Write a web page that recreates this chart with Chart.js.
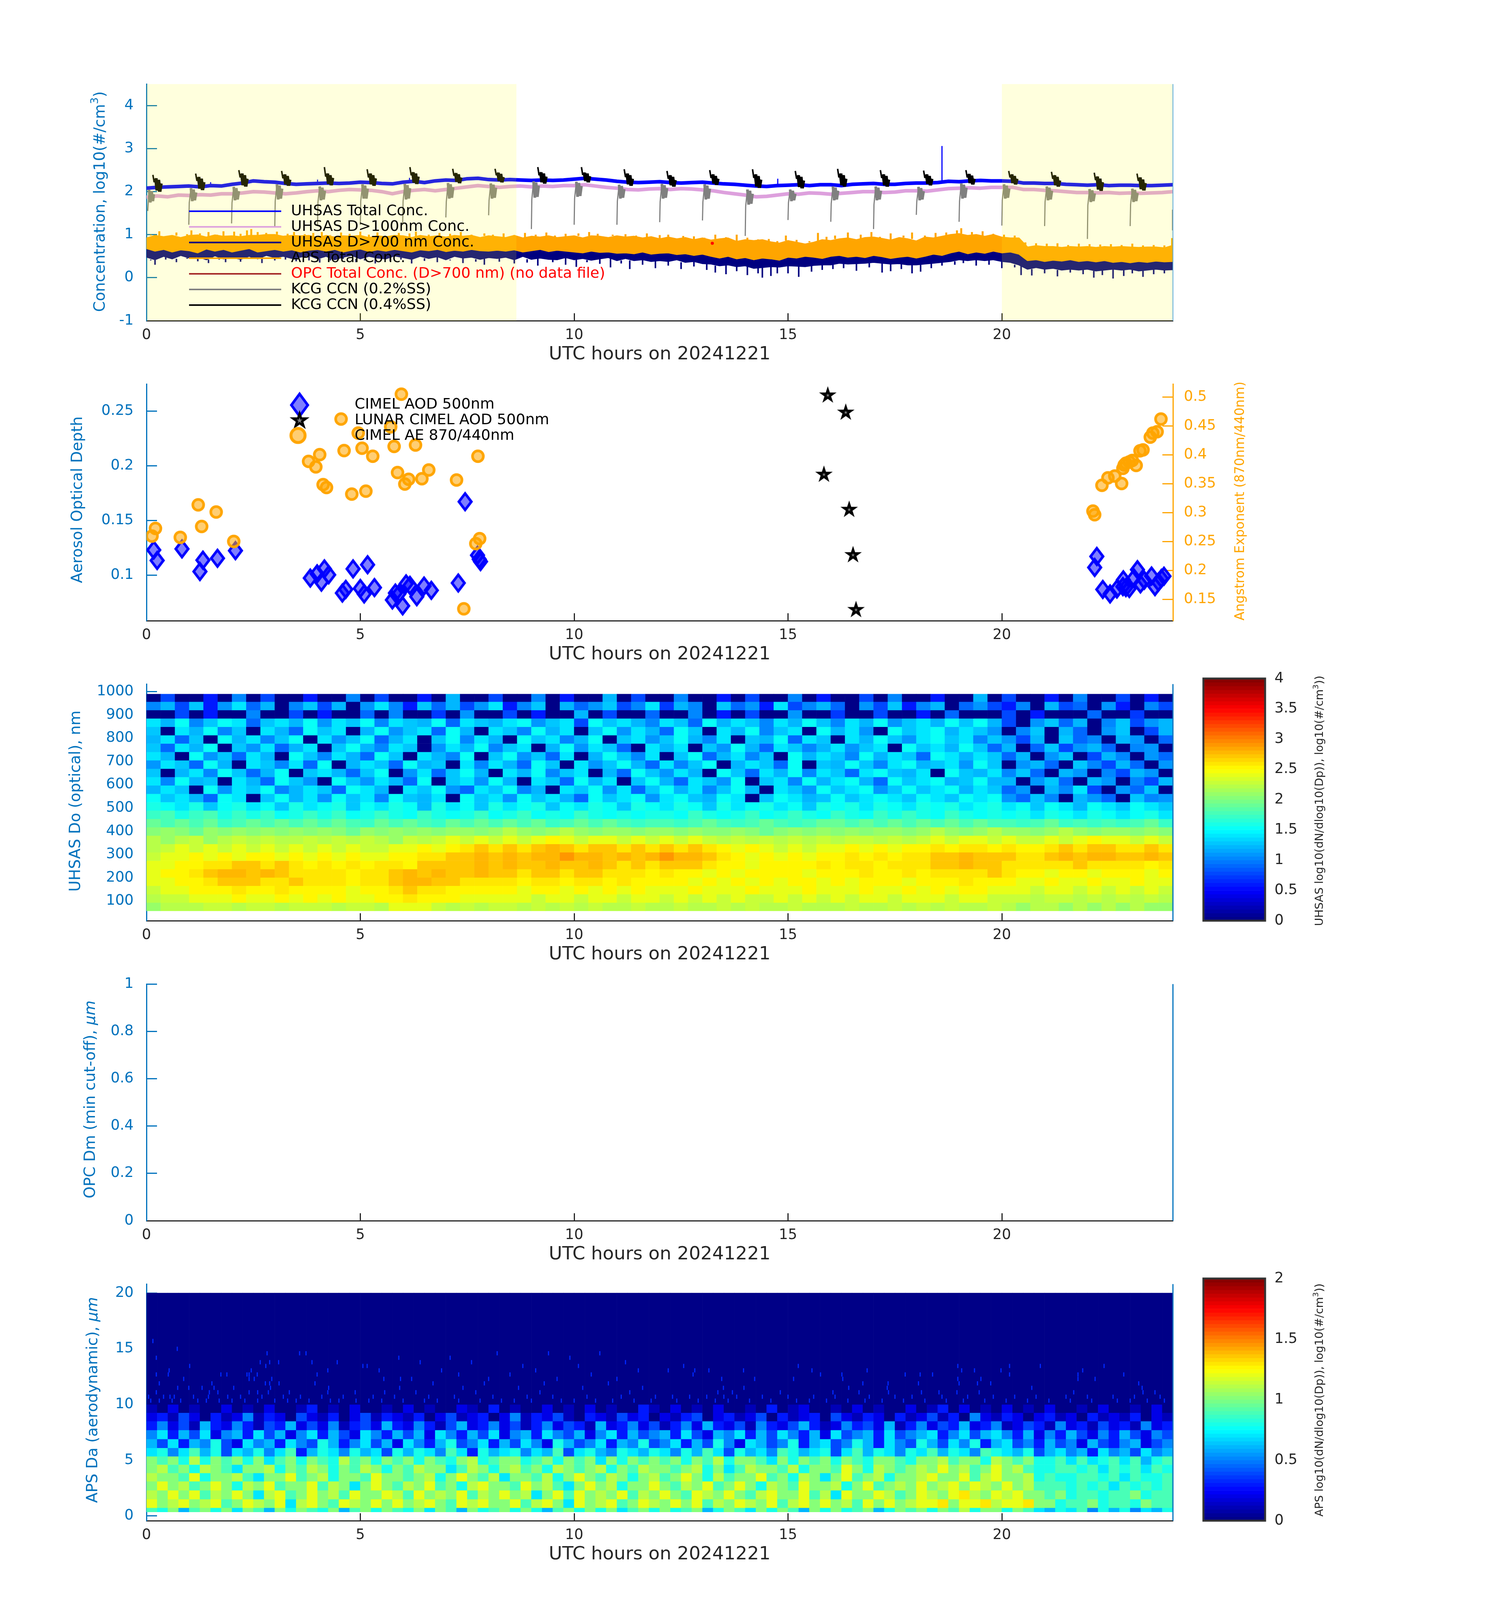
<!DOCTYPE html>
<html>
<head>
<meta charset="utf-8">
<title>Aerosol daily summary 20241221</title>
<script src="https://cdn.jsdelivr.net/npm/chart.js@4/dist/chart.umd.js"></script>
<style>
  html, body { margin: 0; background: #fff; overflow: hidden; }
  canvas { position: absolute; }
</style>
</head>
<body>
<script>
// ---- panel 1: concentrations, log10(#/cm3)
// sampled every 0.25 h
const uhsasTotal = [2.08,2.10,2.11,2.12,2.13,2.11,2.14,2.13,2.17,2.20,2.25,2.23,2.22,2.19,2.17,2.18,2.19,2.20,2.19,2.20,2.22,2.21,2.19,2.18,2.22,2.24,2.21,2.25,2.27,2.26,2.30,2.31,2.28,2.27,2.28,2.27,2.26,2.27,2.26,2.27,2.29,2.31,2.29,2.27,2.24,2.22,2.21,2.22,2.23,2.21,2.20,2.21,2.22,2.20,2.18,2.17,2.15,2.13,2.12,2.14,2.15,2.16,2.14,2.16,2.16,2.14,2.17,2.18,2.19,2.17,2.17,2.19,2.20,2.20,2.21,2.24,2.23,2.25,2.26,2.25,2.25,2.24,2.20,2.20,2.19,2.19,2.17,2.16,2.15,2.16,2.14,2.15,2.15,2.14,2.14,2.15,2.16];
const uhsas100 = [1.87,1.90,1.88,1.92,1.91,1.93,1.92,1.95,1.95,1.97,2.00,1.99,1.97,1.95,1.97,2.00,2.02,2.00,2.03,2.05,2.04,2.03,2.00,1.95,2.00,2.03,2.05,2.02,2.05,2.08,2.11,2.14,2.12,2.10,2.12,2.13,2.11,2.13,2.12,2.14,2.14,2.16,2.13,2.10,2.08,2.05,2.04,2.06,2.07,2.05,2.07,2.06,2.04,2.02,1.98,1.95,1.92,1.88,1.89,1.92,1.95,1.94,1.97,1.96,1.94,1.96,1.98,2.00,2.00,1.98,1.99,2.02,2.02,2.01,2.04,2.07,2.08,2.09,2.08,2.10,2.10,2.10,2.05,2.05,2.03,2.02,2.00,1.98,1.98,1.97,1.98,1.96,1.97,1.96,1.97,1.98,2.00];
const spikeHours = [18.6,18.6,18.6, 14.76,14.76,14.76, 1.5,1.5,1.5, 4.0,4.0,4.0, 6.15,6.15,6.15];
const spikeValues = [2.2,3.06,null, 2.15,2.30,null, 2.12,2.22,null, 2.18,2.28,null, 2.22,2.32,null];

// sampled every 0.2 h: envelope of the noisy traces
const uhsas700Hi = [.72,.7,.74,.71,.73,.7,.75,.72,.7,.74,.71,.73,.76,.72,.74,.7,.73,.71,.74,.72,.7,
  .73,.71,.74,.7,.72,.75,.71,.73,.7,.74,.72,.7,.73,.71,.74,.72,.7,.73,.71,.72,
  .72,.74,.7,.73,.71,.74,.7,.72,.69,.71,.68,.7,.67,.69,.66,.68,.65,.67,.64,.66,
  .65,.63,.66,.62,.64,.6,.58,.6,.56,.58,.55,.57,.54,.56,.58,.56,.6,.58,.56,.6,
  .62,.6,.62,.59,.63,.6,.58,.6,.62,.58,.62,.66,.64,.7,.74,.68,.72,.68,.72,.7,
  .72,.66,.46,.44,.42,.44,.41,.43,.4,.42,.4,.41,.38,.4,.38,.4,.38,.41,.39,.4];
const uhsas700Lo = [.48,.42,.5,.44,.52,.46,.49,.42,.51,.44,.47,.43,.5,.44,.52,.47,.5,.45,.48,.52,.44,
  .5,.42,.48,.52,.44,.5,.46,.44,.51,.47,.43,.5,.45,.49,.42,.5,.46,.48,.43,.47,
  .45,.48,.42,.5,.43,.46,.43,.42,.47,.42,.45,.41,.44,.47,.4,.45,.4,.42,.38,.4,
  .38,.42,.36,.38,.33,.32,.28,.3,.26,.28,.22,.24,.26,.25,.28,.27,.26,.29,.3,.3,
  .34,.32,.33,.34,.36,.34,.32,.33,.3,.3,.32,.34,.36,.38,.42,.4,.42,.4,.42,.38,
  .36,.3,.2,.24,.2,.22,.18,.2,.18,.2,.16,.18,.2,.18,.2,.16,.18,.2,.18,.19];
const apsHi = [.92,.98,.95,.98,.93,.98,.99,.94,.99,.96,.97,.95,.98,.98,1.0,1.0,.96,.98,.97,.98,.93,
  .98,.94,.97,.96,.98,.93,.97,.95,.98,.97,.93,.98,.95,.97,.94,.98,.96,.98,.93,.97,
  .95,.93,.98,.92,.96,.94,.97,.93,.95,.97,.92,.97,.96,.93,.97,.94,.96,.92,.95,.9,
  .94,.9,.93,.88,.92,.87,.9,.92,.84,.88,.86,.88,.83,.8,.86,.82,.78,.82,.88,.86,
  .9,.92,.88,.93,.94,.91,.87,.93,.9,.85,.94,.92,.96,1.0,1.02,.98,1.0,.96,1.0,.94,
  .92,.92,.71,.74,.72,.72,.7,.72,.71,.72,.7,.72,.71,.72,.71,.7,.71,.71,.69,.75];
const apsLo = [.68,.62,.66,.6,.65,.63,.58,.67,.62,.66,.6,.64,.68,.6,.63,.66,.62,.65,.6,.64,.66,
  .62,.66,.6,.64,.67,.61,.65,.62,.66,.63,.6,.65,.63,.66,.61,.64,.62,.66,.63,.62,
  .64,.62,.65,.6,.63,.66,.61,.64,.62,.6,.58,.62,.59,.6,.57,.58,.56,.6,.55,.57,
  .58,.54,.56,.52,.55,.5,.46,.5,.44,.47,.42,.46,.44,.41,.48,.46,.5,.48,.45,.5,
  .52,.48,.5,.47,.52,.49,.45,.48,.5,.46,.5,.55,.52,.58,.62,.56,.6,.57,.62,.58,
  .6,.55,.4,.42,.38,.41,.39,.42,.38,.4,.37,.4,.36,.38,.35,.38,.36,.39,.37,.38];
// single noisy excursions past the envelopes
const apsPeakHours = [.1,.3,.55,.7,.95,1.05,1.25,1.45,1.65,1.8,2.05,2.2,2.35,2.45,2.6,2.8,3.05,3.3,3.45,3.7,3.9,4.1,4.3,4.55,4.75,5.0,5.2,5.4,5.7,5.9,6.15,6.3,6.6,6.85,7.1,7.35,7.6,7.9,8.1,8.35,8.6,8.85,9.1,9.35,9.55,9.8,10.1,10.35,10.55,10.9,11.2,11.45,11.7,12.0,12.2,12.55,12.8,13.05,13.3,13.55,13.8,14.05,14.3,14.55,14.75,14.95,15.2,15.5,15.7,15.9,16.1,16.4,16.7,16.95,17.15,17.4,17.7,17.9,18.2,18.45,18.7,18.95,19.05,19.3,19.55,19.8,20.05,20.3,20.55,20.8,21.05,21.3,21.55,21.8,22.05,22.3,22.55,22.8,23.05,23.3,23.55,23.8,23.98];
const apsPeakValues = [1.0,1.08,.98,1.05,1.01,1.1,1.03,1.06,1.0,1.08,1.07,1.02,1.1,1.13,1.06,1.04,1.07,1.02,1.06,1.01,1.04,1.06,.99,1.05,1.02,1.07,1.0,1.05,.98,1.04,1.03,1.07,1.0,1.04,1.02,1.06,1.0,1.03,1.0,1.03,.99,1.04,1.0,1.05,.98,1.02,1.03,1.06,1.02,1.0,1.01,.98,1.03,.99,1.0,.97,.96,.93,1.0,.94,1.0,.93,.89,.9,.85,.98,.88,.85,1.04,.95,.98,1.05,1.0,1.06,.95,1.03,.98,1.05,.98,1.04,1.05,1.1,1.15,1.06,1.08,1.02,1.0,.98,.82,.8,.79,.8,.76,.79,.78,.77,.78,.76,.79,.75,.76,.75,.92];
const dipHours = [.1,.2,.45,.7,.95,1.2,1.45,1.7,1.85,2.2,2.45,2.7,3.0,3.25,3.5,3.8,4.05,4.3,4.6,4.9,5.1,5.35,5.7,5.95,6.2,6.5,6.8,7.1,7.4,7.7,7.9,8.25,8.6,8.9,9.15,9.5,9.8,10.05,10.3,10.6,10.85,11.1,11.3,11.6,11.9,12.2,12.5,12.8,13.1,13.3,13.55,13.8,14.05,14.3,14.4,14.6,14.75,15.0,15.25,15.55,15.8,16.05,16.3,16.6,16.9,17.2,17.4,17.65,17.9,18.1,18.35,18.6,18.9,19.1,19.4,19.7,20.0,20.3,20.45,20.7,21.0,21.3,21.6,21.9,22.15,22.35,22.6,22.85,23.05,23.3,23.55,23.8];
const dipValues = [.4,.3,.42,.36,.44,.38,.34,.42,.36,.37,.44,.34,.4,.42,.38,.4,.35,.4,.44,.36,.4,.33,.38,.42,.33,.39,.36,.4,.34,.37,.3,.37,.33,.35,.28,.36,.3,.25,.36,.32,.24,.33,.2,.3,.22,.28,.2,.26,.18,.12,.08,.15,.06,.1,.0,.04,.1,.1,.02,.14,.18,.2,.22,.16,.24,.12,.15,.2,.1,.14,.22,.28,.3,.34,.28,.3,.22,.24,.06,.05,.1,.03,.12,.08,.0,.06,-.02,.04,.1,.02,.08,.1];

// CCN bursts, one line per cycle, null breaks the trace between cycles
const ccn02Hours = [
  .03,.04,.06,.09,.12,.15,.17,.17,
  .99,1.0,1.04,1.07,1.1,1.13,1.16,1.16,
  1.99,2.0,2.04,2.07,2.1,2.13,2.16,2.16,
  3.0,3.01,3.05,3.08,3.11,3.14,3.17,3.17,
  4.0,4.01,4.05,4.08,4.11,4.14,4.17,4.17,
  5.0,5.01,5.05,5.08,5.11,5.14,5.17,5.17,
  5.99,6.0,6.04,6.07,6.1,6.13,6.16,6.16,
  7.0,7.01,7.05,7.08,7.11,7.14,7.17,7.17,
  8.0,8.01,8.05,8.08,8.11,8.14,8.17,8.17,
  9.0,9.01,9.05,9.08,9.11,9.14,9.17,9.17,
  10.0,10.01,10.05,10.08,10.11,10.14,10.17,10.17,
  11.0,11.01,11.05,11.08,11.11,11.14,11.17,11.17,
  12.0,12.01,12.05,12.08,12.11,12.14,12.17,12.17,
  13.0,13.01,13.05,13.08,13.11,13.14,13.17,13.17,
  14.0,14.01,14.05,14.08,14.11,14.14,14.17,14.17,
  15.0,15.01,15.05,15.08,15.11,15.14,15.17,15.17,
  16.0,16.01,16.05,16.08,16.11,16.14,16.17,16.17,
  17.0,17.01,17.05,17.08,17.11,17.14,17.17,17.17,
  18.0,18.01,18.05,18.08,18.11,18.14,18.17,18.17,
  19.0,19.01,19.05,19.08,19.11,19.14,19.17,19.17,
  20.0,20.01,20.05,20.08,20.11,20.14,20.17,20.17,
  21.0,21.01,21.05,21.08,21.11,21.14,21.17,21.17,
  22.0,22.01,22.05,22.08,22.11,22.14,22.17,22.17,
  23.0,23.01,23.05,23.08,23.11,23.14,23.17,23.17,
  23.99,23.99];
const ccn02Values = [
  1.55,1.72,2.04,1.75,2.01,1.78,1.94,null,
  1.23,1.74,2.08,1.78,2.05,1.8,1.98,null,
  1.26,1.74,2.11,1.8,2.08,1.82,2.01,null,
  1.17,1.78,2.17,1.82,2.14,1.84,2.07,null,
  1.23,1.76,2.12,1.8,2.09,1.82,2.02,null,
  1.23,1.78,2.17,1.84,2.14,1.84,2.07,null,
  1.23,1.78,2.18,1.82,2.15,1.84,2.08,null,
  1.4,1.76,2.2,1.84,2.17,1.86,2.1,null,
  1.45,1.8,2.19,1.84,2.16,1.86,2.09,null,
  1.13,1.82,2.24,1.86,2.21,1.88,2.14,null,
  1.23,1.84,2.23,1.88,2.2,1.9,2.13,null,
  1.23,1.78,2.16,1.84,2.13,1.86,2.06,null,
  1.29,1.76,2.18,1.84,2.15,1.86,2.08,null,
  1.33,1.76,2.17,1.82,2.14,1.84,2.07,null,
  .97,1.66,2.05,1.7,2.02,1.72,1.95,null,
  1.34,1.74,2.05,1.78,2.02,1.8,1.95,null,
  1.3,1.72,2.12,1.8,2.09,1.82,2.02,null,
  1.13,1.7,2.12,1.8,2.09,1.82,2.02,null,
  1.46,1.76,2.11,1.8,2.08,1.82,2.01,null,
  1.3,1.78,2.19,1.84,2.16,1.86,2.09,null,
  1.21,1.8,2.17,1.84,2.14,1.86,2.07,null,
  1.2,1.76,2.12,1.8,2.09,1.82,2.02,null,
  .9,1.68,2.06,1.76,2.03,1.78,1.96,null,
  1.2,1.7,2.07,1.76,2.04,1.78,1.97,null,
  1.1,1.58];
const ccn04Hours = [
  .15,.18,.22,.25,.28,.31,.34,.34,
  1.15,1.18,1.22,1.25,1.28,1.31,1.34,1.34,
  2.16,2.19,2.23,2.26,2.29,2.32,2.35,2.35,
  3.16,3.19,3.23,3.26,3.29,3.32,3.35,3.35,
  4.16,4.19,4.23,4.26,4.29,4.32,4.35,4.35,
  5.16,5.19,5.23,5.26,5.29,5.32,5.35,5.35,
  6.16,6.19,6.23,6.26,6.29,6.32,6.35,6.35,
  7.16,7.19,7.23,7.26,7.29,7.32,7.35,7.35,
  8.15,8.18,8.22,8.25,8.28,8.31,8.34,8.34,
  9.15,9.18,9.22,9.25,9.28,9.31,9.34,9.34,
  10.17,10.2,10.24,10.27,10.3,10.33,10.36,10.36,
  11.17,11.2,11.24,11.27,11.3,11.33,11.36,11.36,
  12.17,12.2,12.24,12.27,12.3,12.33,12.36,12.36,
  13.17,13.2,13.24,13.27,13.3,13.33,13.36,13.36,
  14.17,14.2,14.24,14.27,14.3,14.33,14.36,14.36,
  15.17,15.2,15.24,15.27,15.3,15.33,15.36,15.36,
  16.16,16.19,16.23,16.26,16.29,16.32,16.35,16.35,
  17.16,17.19,17.23,17.26,17.29,17.32,17.35,17.35,
  18.17,18.2,18.24,18.27,18.3,18.33,18.36,18.36,
  19.16,19.19,19.23,19.26,19.29,19.32,19.35,19.35,
  20.16,20.19,20.23,20.26,20.29,20.32,20.35,20.35,
  21.16,21.19,21.23,21.26,21.29,21.32,21.35,21.35,
  22.16,22.19,22.23,22.26,22.29,22.32,22.35,22.35,
  23.16,23.19,23.23,23.26,23.29,23.32,23.35];
const ccn04Values = [
  2.39,2.22,2.31,2.03,2.27,2.0,2.19,null,
  2.42,2.25,2.34,2.07,2.3,2.04,2.22,null,
  2.5,2.33,2.42,2.15,2.38,2.12,2.3,null,
  2.48,2.31,2.4,2.17,2.36,2.14,2.28,null,
  2.57,2.35,2.42,2.18,2.38,2.15,2.32,null,
  2.52,2.33,2.42,2.17,2.38,2.14,2.31,null,
  2.57,2.38,2.45,2.21,2.42,2.18,2.35,null,
  2.53,2.37,2.43,2.23,2.4,2.2,2.33,null,
  2.53,2.38,2.44,2.25,2.41,2.22,2.34,null,
  2.57,2.38,2.45,2.22,2.42,2.19,2.35,null,
  2.57,2.39,2.44,2.25,2.42,2.22,2.36,null,
  2.52,2.34,2.42,2.17,2.38,2.14,2.3,null,
  2.48,2.3,2.38,2.15,2.34,2.12,2.27,null,
  2.5,2.32,2.4,2.19,2.36,2.16,2.3,null,
  2.52,2.32,2.4,2.12,2.36,2.09,2.28,null,
  2.48,2.3,2.38,2.11,2.34,2.08,2.26,null,
  2.53,2.33,2.42,2.15,2.38,2.12,2.3,null,
  2.5,2.32,2.4,2.15,2.36,2.12,2.28,null,
  2.49,2.32,2.4,2.18,2.36,2.15,2.3,null,
  2.5,2.33,2.41,2.2,2.37,2.17,2.3,null,
  2.48,2.33,2.4,2.2,2.36,2.17,2.3,null,
  2.46,2.3,2.38,2.15,2.34,2.12,2.26,null,
  2.44,2.27,2.35,2.05,2.3,2.02,2.22,null,
  2.42,2.25,2.33,2.06,2.28,2.03,2.2];
const opcHours = [13.23];
const opcValues = [0.8];
const nightSpans = [[0, 8.65], [20, 24]];
const legendNames = ['UHSAS Total Conc.', 'UHSAS D>100nm Conc.', 'UHSAS D>700 nm Conc.', 'APS Total Conc.', 'OPC Total Conc. (D>700 nm) (no data file)', 'KCG CCN (0.2%SS)', 'KCG CCN (0.4%SS)'];

// ---- panel 2: AOD and Angstrom exponent
const aodHours = [.17,.25,.83,1.32,1.25,1.66,2.08,3.83,3.99,4.16,4.26,4.09,4.58,4.66,4.83,5.0,5.09,5.17,5.33,5.75,5.82,5.9,5.99,6.07,6.16,6.32,6.49,6.66,7.29,7.45,7.74,7.78,7.81,22.22,22.17,22.36,22.53,22.69,22.84,22.9,22.98,22.83,23.09,23.17,23.24,23.33,23.5,23.58,23.66,23.73,23.79];
const aodValues = [.123,.1134,.124,.1137,.1033,.1154,.1224,.0973,.1012,.1057,.1003,.0936,.0836,.087,.1057,.0878,.0828,.1095,.0886,.0773,.0836,.0828,.0719,.092,.0906,.0803,.09,.0861,.0928,.1672,.1182,.1145,.1124,.1171,.107,.0869,.0828,.0873,.0957,.0886,.0878,.0895,.0973,.105,.092,.0953,.0992,.0895,.0936,.097,.099];
const lunarHours = [15.93,16.35,15.84,16.43,16.52,16.59];
const lunarValues = [.2645,.2488,.192,.1599,.1184,.0682];
const aeHours = [5.96,4.55,5.71,4.95,5.04,5.79,6.29,4.62,5.29,4.05,3.79,3.96,7.75,6.6,5.87,6.44,6.13,6.04,7.25,4.13,4.21,4.8,5.13,1.21,1.63,1.29,.21,.13,.79,2.04,7.79,7.7,7.42,23.72,23.63,23.53,23.47,23.3,23.23,23.05,22.98,22.9,22.86,23.14,22.83,22.64,22.48,22.8,22.34,22.13,22.17];
const aeValues = [.505,.462,.4485,.4377,.4115,.4146,.417,.4074,.3976,.4004,.3887,.3792,.3976,.3738,.3694,.3587,.3577,.3495,.3565,.3485,.3435,.3321,.3372,.3135,.3011,.2761,.2727,.2594,.2572,.2502,.255,.2464,.1336,.462,.44,.4377,.4307,.4086,.407,.3903,.3878,.3855,.3824,.3817,.3767,.3634,.3602,.3504,.3473,.3027,.2964];

// ---- panel 3: UHSAS size distribution, log10 x10, top row first, 20 min columns
const uhsasEdges = [990,957,921,885,849,813,777,741,705,669,633,597,561,525,489,453,417,381,345,309,273,237,201,165,129,93,57];
const uhsasCells = [
 [0,8,0,0,6,0,10,0,8,0,0,6, 0,0,10,0,8,0,0,6,0,12,0,0, 8,0,0,10,0,6,0,0,12,0,8,0, 0,10,0,0,6,0,8,0,0,10,0,6, 0,0,8,0,10,0,0,6,0,0,12,0, 8,0,0,6,0,10,0,0,8,0,6,0],
 [10,12,8,13,6,11,14,9,12,0,10,13, 8,12,0,11,14,10,6,13,9,12,8,11, 14,6,10,13,0,12,9,11,13,8,10,14, 7,12,10,0,13,9,11,6,14,8,10,12, 9,0,11,8,13,6,10,12,0,9,11,8, 6,10,0,12,8,9,0,11,6,0,10,8],
 [0,0,8,0,6,0,0,10,0,0,8,0, 6,0,0,9,0,10,0,0,7,0,11,0, 0,8,0,6,0,0,12,0,8,0,0,9, 0,0,10,0,6,0,8,0,0,11,0,0, 7,0,0,8,0,0,6,0,9,0,0,0, 8,0,6,0,0,0,9,0,0,7,0,0],
 [14,12,15,10,13,15,14,9,13,14,12,15, 11,14,13,15,10,14,13,12,15,9,14,13, 12,14,15,11,13,14,8,15,13,14,12,10, 14,13,9,15,12,14,13,10,14,12,15,13, 10,14,12,15,11,13,14,12,15,13,15,12, 8,0,11,13,9,12,0,10,13,8,11,12],
 [13,0,14,12,15,10,13,0,14,12,9,15, 13,14,0,12,15,11,13,14,9,15,12,0, 14,13,10,15,12,14,0,13,15,11,14,12, 9,15,13,0,14,12,15,10,13,14,0,15, 12,14,11,0,15,13,14,15,12,14,13,11, 0,10,13,0,12,9,0,11,13,0,8,12],
 [12,14,9,13,0,15,12,14,10,13,15,0, 14,11,13,15,9,12,14,0,13,15,10,14, 12,0,15,13,14,10,12,15,0,13,14,11, 13,15,12,10,14,0,13,12,15,9,14,13, 0,14,12,15,13,11,14,15,13,14,10,13, 11,8,12,0,13,9,10,0,12,11,0,9],
 [13,9,14,12,15,0,13,11,14,9,12,14, 0,13,15,12,10,14,13,0,11,14,12,15, 10,13,14,0,12,15,11,14,13,9,0,14, 12,14,0,13,11,15,12,9,14,13,10,12, 14,11,13,14,0,15,13,14,12,15,13,9, 12,0,9,13,8,11,12,9,0,10,11,0],
 [14,12,0,15,11,13,9,14,12,0,15,13, 10,14,12,9,15,13,0,14,12,10,15,0, 13,15,11,13,9,14,0,12,15,13,10,14, 0,13,15,9,12,14,10,13,0,15,12,14, 13,10,15,12,14,13,9,15,14,12,14,13, 9,12,0,11,13,0,8,12,10,0,11,9],
 [11,14,13,9,15,12,0,14,13,10,14,9, 15,0,12,14,13,9,15,12,13,0,14,10, 14,12,9,15,13,0,14,11,13,15,12,9, 14,10,13,15,0,12,14,13,9,15,0,13, 12,15,13,10,14,15,12,13,14,11,15,13, 0,11,12,9,0,13,10,8,12,9,0,11],
 [13,0,12,14,10,15,13,9,12,15,0,13, 14,12,9,13,15,0,11,14,9,13,15,12, 0,14,12,15,10,13,14,0,12,9,15,13, 11,14,12,0,15,13,9,14,12,15,10,14, 13,9,14,15,13,12,14,0,15,13,12,14, 10,13,9,0,12,11,0,10,8,12,11,0],
 [14,10,15,12,13,0,14,12,9,15,13,11, 0,15,13,11,14,12,9,15,0,13,14,11, 15,12,0,14,13,9,15,12,14,0,13,15, 12,9,14,13,11,15,0,13,14,10,15,12, 14,15,12,9,15,13,14,15,12,13,15,12, 12,0,11,13,9,0,12,11,0,10,8,12],
 [12,14,13,0,15,11,14,13,15,10,12,14, 13,9,15,14,12,0,14,13,15,11,9,14, 13,15,10,12,0,14,13,15,11,14,9,13, 15,12,14,10,13,15,12,0,14,13,11,15, 13,14,15,11,13,15,13,14,15,12,14,13, 9,11,0,12,10,14,8,0,11,9,13,0],
 [15,13,14,12,9,15,14,0,13,15,12,14, 11,15,13,14,10,15,13,12,14,0,15,13, 14,11,15,13,14,12,9,15,13,14,15,11, 14,15,13,12,15,14,0,13,15,14,12,13, 15,13,14,15,14,13,15,14,13,15,14,15, 11,9,13,10,0,12,11,9,0,13,10,11],
 [16,15,14,16,13,15,16,14,15,13,16,14, 15,16,13,15,14,16,15,12,16,14,15,13, 16,14,15,16,13,15,14,16,15,13,16,15, 14,16,15,13,16,14,15,16,14,15,13,16, 15,16,14,16,15,14,16,15,16,14,15,16, 14,15,13,15,14,12,15,14,13,15,14,13],
 [17,18,16,17,18,16,17,16,17,15,16,17, 16,17,15,16,17,16,15,17,16,15,16,17, 15,16,17,15,16,15,17,16,15,16,15,16, 16,15,17,16,15,16,17,15,16,17,16,15, 17,16,15,17,16,17,16,15,17,16,15,16, 15,16,14,16,15,14,16,15,14,15,16,14],
 [19,18,19,18,19,17,18,19,18,19,18,19, 18,19,18,17,19,18,19,18,17,19,18,19, 18,19,18,19,17,18,19,18,19,18,17,18, 18,17,18,19,18,17,18,19,18,17,18,19, 19,18,19,18,19,18,19,18,19,18,19,18, 18,17,18,19,17,18,17,18,17,18,19,17],
 [20,21,20,19,21,20,21,20,21,20,21,20, 21,20,19,21,20,21,20,21,20,21,21,20, 21,22,21,20,21,22,21,20,21,21,20,21, 21,20,21,20,20,21,20,19,20,21,20,21, 20,21,20,21,21,20,21,22,21,20,21,22, 21,21,20,21,22,21,20,21,21,20,21,20],
 [22,21,22,23,21,22,23,22,23,22,22,23, 22,23,22,23,22,21,23,22,23,24,23,24, 23,24,23,24,25,24,23,24,24,23,24,23, 24,23,24,23,22,23,22,23,22,23,22,23, 22,23,23,22,23,22,23,24,23,24,24,23, 24,23,23,24,23,24,25,24,24,23,24,23],
 [22,23,24,23,24,23,24,23,24,23,24,23, 24,23,24,23,23,24,24,25,24,25,26,27, 26,27,26,27,28,27,26,27,27,26,27,26, 27,26,27,26,25,24,25,24,23,24,23,24, 24,25,24,25,24,25,25,26,25,26,26,25, 26,25,25,26,27,26,27,27,26,26,27,26],
 [23,24,24,25,24,25,24,25,25,24,25,24, 25,24,25,24,24,25,25,26,26,27,27,28, 27,28,27,28,28,29,28,28,27,28,27,28, 29,28,28,27,26,25,24,25,24,25,24,25, 25,26,25,26,25,26,26,27,27,28,27,27, 27,26,26,27,28,27,28,28,27,27,28,27],
 [24,24,25,25,26,26,27,27,26,27,26,25, 26,25,26,25,26,26,25,27,27,27,27,28, 27,28,27,27,28,27,27,28,27,26,27,26, 27,27,27,26,25,25,24,25,25,25,25,26, 25,26,26,25,26,26,26,27,27,28,27,27, 26,26,26,26,26,27,26,26,26,26,25,26],
 [24,25,25,26,27,28,28,27,28,27,26,26, 26,26,25,26,26,27,28,27,28,27,27,28, 27,27,26,27,27,26,27,27,26,26,26,25, 26,25,25,24,25,24,25,25,25,25,24,25, 25,25,26,25,25,26,25,26,26,26,26,27, 26,25,25,24,25,25,24,25,25,25,24,25],
 [24,24,25,25,26,27,27,27,26,26,27,26, 26,26,25,26,26,27,28,28,27,27,26,26, 26,26,25,26,26,25,26,26,25,26,25,25, 25,25,24,25,24,25,24,25,24,25,25,24, 25,24,25,25,25,24,25,25,25,26,25,25, 25,24,24,25,24,24,25,24,24,25,24,24],
 [23,24,24,25,25,25,26,25,25,26,25,25, 25,25,24,25,25,26,27,26,26,25,25,25, 25,25,24,25,25,24,25,24,25,24,25,24, 24,24,25,24,24,24,25,24,24,24,25,24, 24,24,25,24,24,25,24,25,24,25,25,24, 24,24,23,24,24,23,24,23,24,23,24,23],
 [22,23,23,24,24,24,25,24,24,25,24,25, 24,25,24,24,25,25,26,25,25,25,24,24, 24,24,24,23,24,24,23,24,24,23,24,24, 23,24,23,24,23,24,23,23,24,23,24,23, 24,23,24,24,23,24,24,24,23,24,24,23, 23,23,22,23,23,22,23,22,23,22,23,22],
 [21,22,22,22,23,23,22,23,23,22,23,23, 23,22,23,23,22,24,24,24,23,22,23,22, 23,23,22,23,22,23,22,23,22,22,23,22, 22,23,22,22,23,22,23,22,22,23,22,22, 22,23,22,22,23,22,23,22,23,22,22,23, 22,21,22,22,21,22,21,22,21,22,21,21]
];

// ---- panel 5: APS size distribution, log10 x10, top row first, 15 min columns
const apsEdges = [20,10,9.25,8.5,7.7,6.9,6.1,5.35,4.6,3.85,3.1,2.3,1.5,.73,.35];
const apsCells = [
 [0,0,0,0,0,0,0,0,0,0,0,0,0,0,0,0,0,0,0,0,0,0,0,0, 0,0,0,0,0,0,0,0,0,0,0,0,0,0,0,0,0,0,0,0,0,0,0,0, 0,0,0,0,0,0,0,0,0,0,0,0,0,0,0,0,0,0,0,0,0,0,0,0, 0,0,0,0,0,0,0,0,0,0,0,0,0,0,0,0,0,0,0,0,0,0,0,0],
 [1,0,2,0,1,0,0,2,0,1,0,2,0,0,1,3,0,1,0,2,0,0,1,0, 2,0,1,0,0,2,1,0,3,0,1,0,0,2,0,1,0,2,0,1,0,0,3,1, 0,2,0,1,0,2,0,0,1,0,3,0,1,2,0,0,1,0,2,0,1,0,0,2, 0,1,3,0,2,0,1,0,2,0,1,0,2,0,0,1,0,2,0,0,1,0,2,0],
 [2,3,1,4,2,0,3,1,2,5,1,3,2,0,4,2,1,3,0,2,4,1,3,2, 1,3,0,2,4,1,2,3,0,2,5,1,3,2,4,1,0,3,2,1,4,2,3,0, 2,1,3,4,0,2,3,1,2,4,0,3,1,2,3,0,4,2,1,3,2,0,3,1, 2,4,1,3,0,5,2,1,3,2,0,2,3,1,2,0,3,1,2,1,3,0,2,1],
 [3,5,2,4,1,6,3,2,5,3,1,4,3,6,2,4,2,5,1,3,4,2,6,3, 2,5,3,1,4,6,2,3,5,2,4,1,3,5,2,4,3,1,6,2,3,5,2,4, 1,3,5,2,6,3,2,4,1,5,3,2,4,6,3,1,2,5,3,4,2,6,1,3, 5,2,4,3,6,2,3,5,1,2,4,3,1,5,2,3,1,4,2,3,1,5,2,3],
 [5,7,3,6,4,7,2,5,6,3,7,4,6,2,5,7,3,6,4,2,7,5,3,6, 4,6,2,7,5,3,6,4,7,2,5,6,3,7,5,4,6,2,5,7,3,6,4,5, 6,3,7,4,2,6,5,7,3,6,4,7,5,3,6,2,7,4,5,6,3,7,4,5, 6,7,3,5,7,4,6,7,5,3,6,2,5,3,6,4,2,5,3,6,4,2,5,4],
 [6,4,7,3,6,5,8,4,2,7,5,6,3,7,5,4,8,6,3,5,7,4,6,2, 7,5,3,6,8,4,5,7,3,6,4,7,5,2,8,6,4,5,7,3,6,5,8,4, 5,7,3,6,4,8,5,2,7,6,4,5,8,3,6,7,4,5,8,6,3,7,5,4, 8,6,4,7,5,8,3,6,7,4,5,3,6,4,5,2,6,4,3,5,6,2,4,5],
 [7,8,5,7,9,6,8,4,7,6,8,5,7,9,3,6,8,7,5,8,6,7,4,8, 6,8,7,5,9,7,3,8,6,7,8,5,7,6,9,4,7,8,6,5,8,7,6,8, 7,5,8,6,9,7,4,8,6,7,5,9,8,6,7,8,4,7,9,6,8,7,5,8, 7,9,6,8,7,5,9,8,7,6,8,4,6,7,5,6,3,7,5,6,4,7,5,6],
 [10,9,10,8,11,8,10,9,10,8,10,7,9,10,8,10,9,8,11,9,10,8,10,9, 10,8,10,9,8,10,11,8,9,10,10,8,9,10,8,10,9,10,7,10,8,10,9,10, 9,10,8,10,9,11,8,10,10,9,7,10,8,10,9,10,8,10,9,8,10,10,9,8, 10,10,11,9,10,10,8,11,10,9,10,8,8,9,7,9,7,8,9,7,9,6,8,9],
 [10,11,9,10,8,11,10,9,7,10,10,11,8,10,9,11,10,8,10,9,11,10,8,10, 9,11,10,10,7,9,11,10,8,10,11,9,10,8,11,10,9,10,11,8,10,9,11,10, 10,9,10,11,8,10,7,9,11,10,10,9,11,8,10,10,9,12,10,8,11,10,9,10, 11,10,12,10,11,9,10,12,10,11,9,8,8,9,9,8,9,7,9,8,9,7,9,8],
 [11,10,10,9,12,8,10,10,11,9,7,10,10,12,9,10,11,8,10,10,9,12,10,10, 9,10,11,8,10,12,10,9,11,7,10,10,9,11,8,10,12,10,9,11,10,8,10,11, 9,10,12,10,8,11,9,10,10,12,9,10,8,11,10,7,10,12,9,10,11,8,10,10, 11,12,10,10,12,9,11,12,10,10,11,8,9,8,8,9,9,8,9,7,9,8,8,9],
 [10,12,10,11,9,10,12,10,8,11,10,12,9,10,10,12,9,11,10,7,10,12,10,9, 11,10,12,9,10,8,11,12,10,10,9,12,10,11,9,7,10,12,10,11,8,10,10,12, 10,9,11,10,12,9,10,12,10,8,11,10,9,12,10,10,11,8,10,12,9,10,11,10, 12,10,11,12,10,12,11,10,12,10,11,9,9,9,8,9,8,9,7,9,8,9,8,9],
 [11,10,12,10,12,9,11,10,12,10,7,11,12,9,10,12,10,11,9,12,10,10,12,11, 9,12,10,11,10,12,9,11,10,12,10,11,7,10,12,9,12,10,11,10,12,9,11,10, 12,10,9,12,11,10,12,10,9,11,12,10,10,12,9,11,7,12,10,10,12,11,9,10, 12,11,10,12,13,11,10,12,11,12,10,10,9,10,8,9,9,8,9,9,10,8,9,9],
 [12,10,11,12,10,11,12,9,10,12,11,10,12,7,11,12,10,9,12,11,10,12,10,12, 10,11,12,10,9,12,11,12,10,10,12,9,11,12,10,7,12,10,11,12,9,10,12,11, 10,12,10,12,9,11,10,12,11,10,12,9,11,12,10,12,10,11,9,12,10,12,10,11, 12,12,13,10,12,12,13,11,12,12,13,10,10,8,9,9,10,8,9,9,8,10,9,9],
 [9,8,10,6,9,10,8,10,7,10,9,6,10,8,10,9,8,10,6,9,10,8,10,9, 8,10,7,10,9,6,10,8,9,10,8,10,8,6,9,10,8,10,8,10,7,9,10,8, 10,8,9,10,6,8,10,9,7,10,8,10,9,6,10,8,10,8,9,10,6,8,10,9, 10,8,10,9,11,8,10,10,8,10,9,7,6,8,7,9,5,8,6,8,5,7,6,8]
];
// isolated counts above 10 um: [diameter, hours]
const apsSpecks = [
 [15.5,[.15]],
 [14.8,[.72]],
 [14.4,[2.82,3.58,3.73,8.2,9.4,10.6]],
 [14.0,[.23,5.9,7.1,9.9]],
 [13.6,[2.66,2.88,3.09,3.87,4.46,6.4,7.6,11.2]],
 [13.26,[1.01,2.79,5.06,5.16,8.8,10.1,12.56,15.24,18.97,20.18,20.9,22.39]],
 [12.87,[.53,2.45,4.24,5.44,6.9,9.1,11.5,12.2,12.82,13.15,13.96,15.56,16.85,19.06,19.36,19.98,21.89]],
 [12.5,[.23,.51,1.74,1.88,2.35,2.4,2.59,3.99,7.3,8.5,10.4,12.78,15.76,16.26,17.74,18.09,18.38,20.18,21.78,22.85]],
 [12.1,[.87,2.4,2.52,2.93,5.55,5.94,6.2,8.0,9.6,11.0,13.45,14.22,15.13,16.28,18.97,19.51,21.78,22.18]],
 [11.7,[.3,1.53,2.78,2.88,3.1,3.94,6.7,7.9,9.3,10.8,16.75,17.34,18.05,19.0,19.43,19.74,23.2]],
 [11.3,[.73,.99,1.3,1.58,2.04,2.9,4.26,5.92,7.4,8.7,10.2,11.6,13.49,13.97,16.42,17.32,20.7,23.28]],
 [10.9,[.23,1.47,1.67,2.4,2.6,2.85,3.34,4.24,4.88,5.57,6.3,7.7,9.2,11.3,13.36,13.7,14.82,16.05,16.66,17.35,18.12,18.53,18.95,19.47,21.68,23.58,23.3]],
 [10.5,[.05,.4,.55,.65,1.1,1.45,1.9,2.2,2.7,3.2,3.6,4.1,4.6,5.3,5.8,6.6,7.2,8.1,8.9,9.5,10.3,11.1,11.9,12.3,12.7,13.1,13.5,13.8,14.4,15.0,15.6,16.1,16.9,17.5,17.9,18.6,19.2,19.8,20.3,20.8,21.5,22.0,22.6,23.1,23.7]],
 [10.15,[.1,.3,.6,.8,1.2,1.4,1.7,2.0,2.3,2.6,3.0,3.3,3.5,3.8,4.3,4.5,4.9,5.2,5.5,6.0,6.5,6.8,7.3,7.8,8.3,8.6,9.0,9.7,10.0,10.5,10.9,11.4,11.8,12.4,12.9,13.3,13.6,14.1,14.6,15.2,15.5,15.9,16.4,16.8,17.2,17.7,18.2,18.7,19.1,19.6,20.1,20.6,21.1,21.6,22.1,22.7,23.0,23.4,23.8]]
];

// ---- layout of the page
// The reference is 6000 px tall but the browser window can be capped lower (seen: 4096),
// and only the window gets photographed. Vertical positions follow the real window height
// so all five panels stay in the picture; at 6000 px this is the reference layout exactly.
const FIT = Math.min(1, window.innerHeight / 6000);
const V = y => y * FIT;
const soft = s => s * (0.5 + 0.5 * FIT);   // marker and trace sizes give way half as fast
const PANEL_TOPS = [295, 1420, 2545, 3670, 4795];
const TOP_PAD = Math.round(V(100));
const PLOT_H = Math.round(V(908));
const X_H = Math.round(V(116) + 28 + (FIT < 1 ? 8 : 0));
const BLUE = '#0072BD', DARK = '#262626', ORANGE = '#FFA500';
const FONT = '"DejaVu Sans"';
Chart.defaults.font.family = FONT;
Chart.defaults.font.size = 37;

// jet colormap with 64 levels like the colorbar
function jet(f) {
  const i = Math.max(0, Math.min(63, Math.floor(f * 64)));
  const v = (i + 0.5) / 64;
  const c = k => Math.round(255 * Math.max(0, Math.min(1, 1.5 - Math.abs(4 * v - k))));
  return `rgb(${c(3)},${c(2)},${c(1)})`;
}

// page text, markers and legend lines, y given in reference page coordinates
const overlayPlugin = {
  id: 'pageItems',
  afterDraw(chart, args, opts) {
    const ctx = chart.ctx;
    const ox = chart.canvas.offsetLeft, oy = chart.canvas.offsetTop;
    (opts.items || []).forEach(it => {
      ctx.save();
      ctx.translate(it.x - ox, V(it.y) - oy);
      if (it.rot) ctx.rotate(it.rot * Math.PI / 180);
      if (it.img) {
        ctx.drawImage(it.img, -it.img.width / 2, -it.img.height / 2);
      } else if (it.len) {
        ctx.strokeStyle = it.color;
        ctx.lineWidth = it.width;
        ctx.beginPath(); ctx.moveTo(0, 0); ctx.lineTo(it.len, 0); ctx.stroke();
      } else {
        const fontOf = p => `${p.italic ? 'italic ' : ''}${p.sup ? it.size * 0.7 : it.size}px ${FONT}`;
        let total = 0;
        it.parts.forEach(p => { ctx.font = fontOf(p); total += ctx.measureText(p.t).width; });
        let x = it.center ? -total / 2 : 0;
        ctx.fillStyle = it.color;
        ctx.textBaseline = 'middle';
        it.parts.forEach(p => {
          ctx.font = fontOf(p);
          ctx.fillText(p.t, x, p.sup ? -it.size * 0.35 : 0);
          x += ctx.measureText(p.t).width;
        });
      }
      ctx.restore();
    });
  }
};
// pale yellow night patches, laid over the data
const nightPlugin = {
  id: 'nightPatches',
  afterDatasetsDraw(chart, args, opts) {
    const {ctx, scales: {x}, chartArea: a} = chart;
    (opts.spans || []).forEach(s => {
      const x0 = x.getPixelForValue(s[0]), x1 = x.getPixelForValue(s[1]);
      ctx.fillStyle = 'rgba(255,255,30,0.15)';
      ctx.fillRect(x0, a.top, x1 - x0, a.bottom - a.top);
    });
  }
};
// the axes box has a plain line on the right, colorbars a full frame
const edgePlugin = {
  id: 'axesEdge',
  afterDraw(chart, args, opts) {
    const {ctx, chartArea: a} = chart;
    ctx.strokeStyle = opts.color || BLUE;
    ctx.lineWidth = opts.width || 3;
    if (opts.frame) {
      ctx.strokeRect(a.left, a.top, a.right - a.left, a.bottom - a.top);
    } else if (opts.color) {
      ctx.beginPath(); ctx.moveTo(a.right, a.top); ctx.lineTo(a.right, a.bottom); ctx.stroke();
    }
  }
};
Chart.register(overlayPlugin, nightPlugin, edgePlugin);

function xAxis() {
  return {
    type: 'linear', min: 0, max: 24, offset: false,
    border: {color: DARK, width: 3},
    grid: {offset: false, drawOnChartArea: false, tickLength: -V(28), tickColor: DARK, tickWidth: 3},
    ticks: {stepSize: 5, includeBounds: false, padding: V(49) - 18 + V(28), color: DARK, maxRotation: 0, callback: v => String(v)},
    title: {display: true, text: 'UTC hours on 20241221', color: DARK, font: {size: 47}, padding: 0},
    afterFit(s) { s.height = X_H; }
  };
}
function yAxis(min, max, step, color, position) {
  const right = position === 'right';
  return {
    type: 'linear', position: position || 'left', min, max,
    border: {color, width: 3},
    grid: {drawOnChartArea: false, tickLength: -27, tickColor: color, tickWidth: 3},
    ticks: {stepSize: step, includeBounds: false, padding: right ? 55 : 60, color, callback: v => String(v)},
    afterFit(s) { s.width = right ? 822 : 375; }
  };
}
function yTitle(x, y, parts, color, size) {
  return {x, y, rot: -90, center: true, size: (size || 47) * Math.min(1, FIT + 0.15), color: color || BLUE, parts};
}

function makeChart(panel, left, width, config) {
  const canvas = document.createElement('canvas');
  canvas.width = width;
  canvas.height = TOP_PAD + PLOT_H + X_H;
  canvas.style.left = left + 'px';
  canvas.style.top = (Math.round(V(PANEL_TOPS[panel])) - TOP_PAD) + 'px';
  document.body.appendChild(canvas);
  config.options = Object.assign({responsive: false, animation: false, devicePixelRatio: 1}, config.options);
  config.options.plugins = Object.assign({legend: {display: false}, tooltip: {enabled: false}}, config.options.plugins);
  return new Chart(canvas, config);
}

function pairs(hours, values) {
  return values.map((y, i) => ({x: hours[i], y}));
}
function heatDatasets(cells, edges, vmax) {
  return cells.map((row, r) => ({
    type: 'bar', order: 1, grouped: false, barPercentage: 1, categoryPercentage: 1, borderWidth: 0,
    data: row.map((v, c) => ({x: (c + 0.5) * 24 / row.length, y: [edges[r + 1], edges[r]]})),
    backgroundColor: row.map(v => jet(v / 10 / vmax))
  }));
}
function colorbar(panel, vmax, step, titleParts, titleY) {
  const levels = Array.from({length: 64}, (_, i) => i);
  makeChart(panel, 2980, 845, {
    type: 'bar',
    data: {datasets: [{
      barThickness: 159, borderWidth: 0, grouped: false,
      data: levels.map(i => ({x: 0.5, y: [i * vmax / 64, (i + 1) * vmax / 64]})),
      backgroundColor: levels.map(i => jet((i + 0.5) / 64))
    }]},
    options: {
      layout: {padding: {left: 101, top: TOP_PAD, bottom: X_H}},
      scales: {
        x: {type: 'linear', display: false, min: 0, max: 1, offset: false},
        y: {
          type: 'linear', position: 'right', min: 0, max: vmax,
          border: {color: '#333', width: 3},
          grid: {drawOnChartArea: false, tickLength: -11, tickColor: DARK, tickWidth: 3},
          ticks: {stepSize: step, includeBounds: false, padding: 35, color: DARK, callback: v => String(v)},
          afterFit(s) { s.width = 586; }
        }
      },
      plugins: {
        axesEdge: {frame: true, color: '#333', width: 5},
        pageItems: {items: [{x: 3380, y: titleY, rot: -90, center: true, size: 39 * Math.min(1, FIT + 0.05), color: DARK, parts: titleParts}]}
      }
    }
  });
}

// matlab style markers drawn once and handed to chart.js as point images
function marker(w, h, lw, draw) {
  const c = document.createElement('canvas');
  c.width = Math.ceil(w + lw * 2); c.height = Math.ceil(h + lw * 2);
  const g = c.getContext('2d');
  g.translate(c.width / 2, c.height / 2);
  draw(g, w / 2, h / 2, lw);
  return c;
}
function diamond(w, h, lw) {
  return marker(soft(w), soft(h), soft(lw), (g, rx, ry, l) => {
    g.beginPath(); g.moveTo(0, -ry); g.lineTo(rx, 0); g.lineTo(0, ry); g.lineTo(-rx, 0); g.closePath();
    g.fillStyle = 'rgba(0,0,255,0.5)'; g.fill();
    g.strokeStyle = '#0000FF'; g.lineWidth = l; g.lineJoin = 'miter'; g.stroke();
  });
}
function starPath(g, r) {
  g.beginPath();
  for (let i = 0; i < 10; i++) {
    const a = -Math.PI / 2 + i * Math.PI / 5, q = i % 2 ? r * 0.38 : r;
    g.lineTo(q * Math.cos(a), q * Math.sin(a));
  }
  g.closePath();
}
function star(size, core) {
  return marker(soft(size), soft(size), 2, (g, r) => {
    starPath(g, r); g.fillStyle = '#000'; g.fill();
    starPath(g, core); g.fillStyle = '#808080'; g.fill();
  });
}
function ring(d, lw) {
  return marker(soft(d), soft(d), soft(lw), (g, r, _, l) => {
    g.beginPath(); g.arc(0, 0, r - l / 2, 0, 2 * Math.PI);
    g.fillStyle = 'rgba(255,165,0,0.55)'; g.fill();
    g.strokeStyle = ORANGE; g.lineWidth = l; g.stroke();
  });
}

// ---- panel 1
const lineHours = uhsasTotal.map((_, i) => i * 0.25);
const bandHours = apsHi.map((_, i) => i * 0.2);
const legendColors = ['#0000FF', '#DDA0DD', '#000080', ORANGE, '#A52A2A', '#808080', '#000000'];
const line = (data, color, width, order, extra) => Object.assign({
  data, borderColor: color, borderWidth: width, borderJoinStyle: 'bevel', order, pointRadius: 0, tension: 0, spanGaps: false, fill: false
}, extra);
// vertical strokes from an envelope out to each read excursion
function excursions(hours, values, envelope) {
  const xs = [], ys = [];
  hours.forEach((h, i) => {
    xs.push(h, h, h);
    ys.push(envelope[Math.round(h / 0.2)], values[i], null);
  });
  return pairs(xs, ys);
}
// the first two points of a cycle are its thin tail or tip, the rest the dense burst
const burstOnly = values => values.map((v, i) => (i % 8 < 2 ? null : v));
const legendItems = [];
legendNames.forEach((name, i) => {
  const y = 792 + i * 58.7;
  legendItems.push({x: 484, y, len: 236, color: legendColors[i], width: 4});
  legendItems.push({x: 745, y, size: 38, color: i === 4 ? '#FF0000' : '#000', parts: [{t: name}]});
});
makeChart(0, 0, 3825, {
  type: 'line',
  data: {datasets: [
    line(pairs(ccn04Hours, ccn04Values), '#000000', 4, 0),
    line(pairs(ccn04Hours, burstOnly(ccn04Values)), '#000000', 9, 0),
    line(pairs(ccn02Hours, ccn02Values), '#808080', 3, 1),
    line(pairs(ccn02Hours, burstOnly(ccn02Values)), '#808080', 7, 1),
    line(pairs(opcHours, opcValues), '#FF0000', 2, 2, {pointRadius: 4, pointBackgroundColor: '#FF0000', pointBorderWidth: 0}),
    line(pairs(lineHours, uhsasTotal), '#0000FF', soft(11), 3),
    line(pairs(spikeHours, spikeValues), '#0000FF', 3, 3),
    line(pairs(lineHours, uhsas100), '#DDA0DD', soft(11), 4),
    line(pairs(bandHours, apsHi), ORANGE, 3, 5, {fill: '+1', backgroundColor: ORANGE}),
    line(pairs(bandHours, apsLo), ORANGE, 3, 5),
    line(excursions(apsPeakHours, apsPeakValues, apsHi), ORANGE, 5, 5),
    line(pairs(bandHours, uhsas700Hi), '#000080', 3, 6, {fill: '+1', backgroundColor: '#000080'}),
    line(pairs(bandHours, uhsas700Lo), '#000080', 3, 6),
    line(excursions(dipHours, dipValues, uhsas700Lo), '#000080', 4, 6)
  ]},
  options: {
    layout: {padding: {top: TOP_PAD, right: 822}},
    scales: {x: xAxis(), y: yAxis(-1, 4.5, 1, BLUE)},
    plugins: {
      nightPatches: {spans: nightSpans},
      axesEdge: {color: '#5AA8D8', width: 2},
      pageItems: {items: [
        yTitle(258, 756, [{t: 'Concentration, log10(#/cm'}, {t: '3', sup: true}, {t: ')'}]),
        ...legendItems
      ]}
    }
  }
});

// ---- panel 2
makeChart(1, 0, 3825, {
  type: 'scatter',
  data: {datasets: [
    {data: pairs(aeHours, aeValues), yAxisID: 'y2', pointStyle: ring(41, 8), pointRadius: 20},
    {data: pairs(aodHours, aodValues), yAxisID: 'y', pointStyle: diamond(38, 50, 8), pointRadius: 20},
    {data: pairs(lunarHours, lunarValues), yAxisID: 'y', pointStyle: star(56, 5), pointRadius: 20}
  ]},
  options: {
    layout: {padding: {top: TOP_PAD}},
    scales: {
      x: xAxis(),
      y: yAxis(.0583, .2748, .05, BLUE),
      y2: yAxis(.113, .5225, .05, ORANGE, 'right')
    },
    plugins: {
      pageItems: {items: [
        yTitle(200, 1874, [{t: 'Aerosol Optical Depth'}]),
        yTitle(3176, 1879, [{t: 'Angstrom Exponent (870nm/440nm)'}], ORANGE, FIT < 1 ? 40 : 47),
        {x: 767, y: 1519, img: diamond(50, 68, 8)},
        {x: 767, y: 1577, img: star(64, 8)},
        {x: 763, y: 1633, img: ring(52, 9)},
        {x: 908, y: 1518, size: 38, color: '#000', parts: [{t: 'CIMEL AOD 500nm'}]},
        {x: 908, y: 1577, size: 38, color: '#000', parts: [{t: 'LUNAR CIMEL AOD 500nm'}]},
        {x: 908, y: 1635, size: 38, color: '#000', parts: [{t: 'CIMEL AE 870/440nm'}]}
      ]}
    }
  }
});

// ---- panel 3
makeChart(2, 0, 3825, {
  type: 'bar',
  data: {datasets: heatDatasets(uhsasCells, uhsasEdges, 4)},
  options: {
    layout: {padding: {top: TOP_PAD, right: 822}},
    scales: {x: xAxis(), y: yAxis(15, 1033, 100, BLUE)},
    plugins: {
      axesEdge: {color: BLUE, width: 3},
      pageItems: {items: [yTitle(195, 3004, [{t: 'UHSAS Do (optical), nm'}])]}
    }
  }
});
colorbar(2, 4, 0.5, [{t: 'UHSAS log10(dN/dlog10(Dp)), log10(#/cm'}, {t: '3', sup: true}, {t: '))'}], 3003);

// ---- panel 4: no OPC data that day, axes only
makeChart(3, 0, 3825, {
  type: 'scatter',
  data: {datasets: [{data: []}]},
  options: {
    layout: {padding: {top: TOP_PAD, right: 822}},
    scales: {x: xAxis(), y: yAxis(0, 1, 0.2, BLUE)},
    plugins: {
      axesEdge: {color: BLUE, width: 3},
      pageItems: {items: [yTitle(233, 4123, [{t: 'OPC Dm (min cut-off), '}, {t: 'μm', italic: true}])]}
    }
  }
});

// ---- panel 5
const speckHours = [], speckDiams = [];
apsSpecks.forEach(([d, hours]) => hours.forEach(h => {
  speckHours.push(h, h, h);
  speckDiams.push(d, d + 0.38, null);
}));
makeChart(4, 0, 3825, {
  type: 'bar',
  data: {datasets: [
    ...heatDatasets(apsCells, apsEdges, 2),
    {type: 'line', order: 0, data: pairs(speckHours, speckDiams), borderColor: '#0028FF', borderWidth: 3, pointRadius: 0, spanGaps: false}
  ]},
  options: {
    layout: {padding: {top: TOP_PAD, right: 822}},
    scales: {x: xAxis(), y: yAxis(-0.43, 20.8, 5, BLUE)},
    plugins: {
      axesEdge: {color: BLUE, width: 3},
      pageItems: {items: [yTitle(239, 5250, [{t: 'APS Da (aerodynamic), '}, {t: 'μm', italic: true}])]}
    }
  }
});
colorbar(4, 2, 0.5, [{t: 'APS log10(dN/dlog10(Dp)), log10(#/cm'}, {t: '3', sup: true}, {t: '))'}], 5250);
</script>
</body>
</html>
